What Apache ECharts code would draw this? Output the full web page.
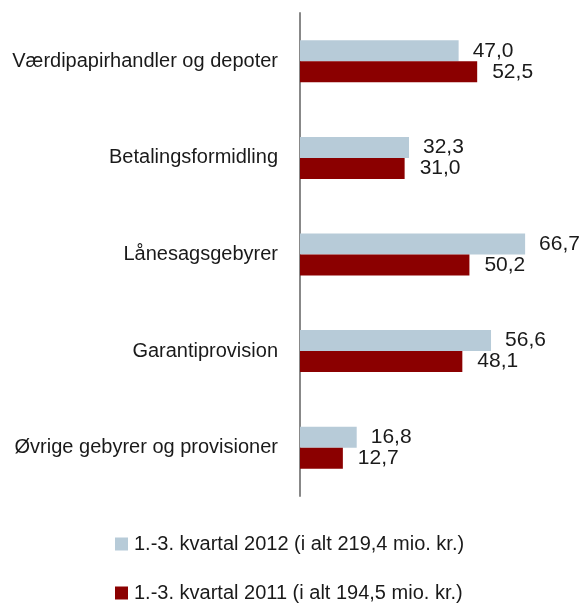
<!DOCTYPE html>
<html><head><meta charset="utf-8">
<script src="https://cdn.jsdelivr.net/npm/echarts@6/dist/echarts.min.js"></script>
<style>html,body{margin:0;padding:0;background:#fff}#c{width:585px;height:606px}</style>
</head><body><div id="c"></div>
<script>
const categories = ["Værdipapirhandler og depoter","Betalingsformidling","Lånesagsgebyrer","Garantiprovision","Øvrige gebyrer og provisioner"];
const series2012 = [47.0, 32.3, 66.7, 56.6, 16.8];
const series2011 = [52.5, 31.0, 50.2, 48.1, 12.7];
const seriesNames = ["1.-3. kvartal 2012 (i alt 219,4 mio. kr.)","1.-3. kvartal 2011 (i alt 194,5 mio. kr.)"];
const FONT = "'Liberation Sans',Arial,sans-serif";
const fmt = p => p.value.toFixed(1).replace('.', ',');
const chart = echarts.init(document.getElementById('c'));
const legendCommon = {orient:'horizontal',left:110,itemWidth:13,itemHeight:13,itemGap:6,icon:'rect',
    textStyle:{fontSize:20,color:'#1a1a1a',fontFamily:FONT,padding:[0,0,0,1]}};
chart.setOption({
  animation:false,
  textStyle:{fontFamily:FONT},
  grid:{left:300,right:15,top:13,bottom:110,containLabel:false},
  xAxis:{type:'value',min:0,max:80,show:false},
  yAxis:{type:'category',data:categories,inverse:true,
    axisLine:{lineStyle:{color:'#888',width:2}},axisTick:{show:false},
    axisLabel:{margin:22,fontSize:20,color:'#1a1a1a',fontFamily:FONT}},
  legend:[
    Object.assign({},legendCommon,{top:529,data:[seriesNames[0]]}),
    Object.assign({},legendCommon,{top:578,data:[seriesNames[1]]})
  ],
  series:[
    {name:seriesNames[0],type:'bar',data:series2012,barWidth:21,barGap:'0%',
     itemStyle:{color:'#b7cbd8'},
     label:{show:true,position:'right',distance:14,formatter:fmt,fontSize:21,color:'#1a1a1a',fontFamily:FONT}},
    {name:seriesNames[1],type:'bar',data:series2011,barWidth:21,barGap:'0%',
     itemStyle:{color:'#8b0000'},
     label:{show:true,position:'right',distance:15,formatter:fmt,fontSize:21,color:'#1a1a1a',fontFamily:FONT}}
  ]
});
</script></body></html>
